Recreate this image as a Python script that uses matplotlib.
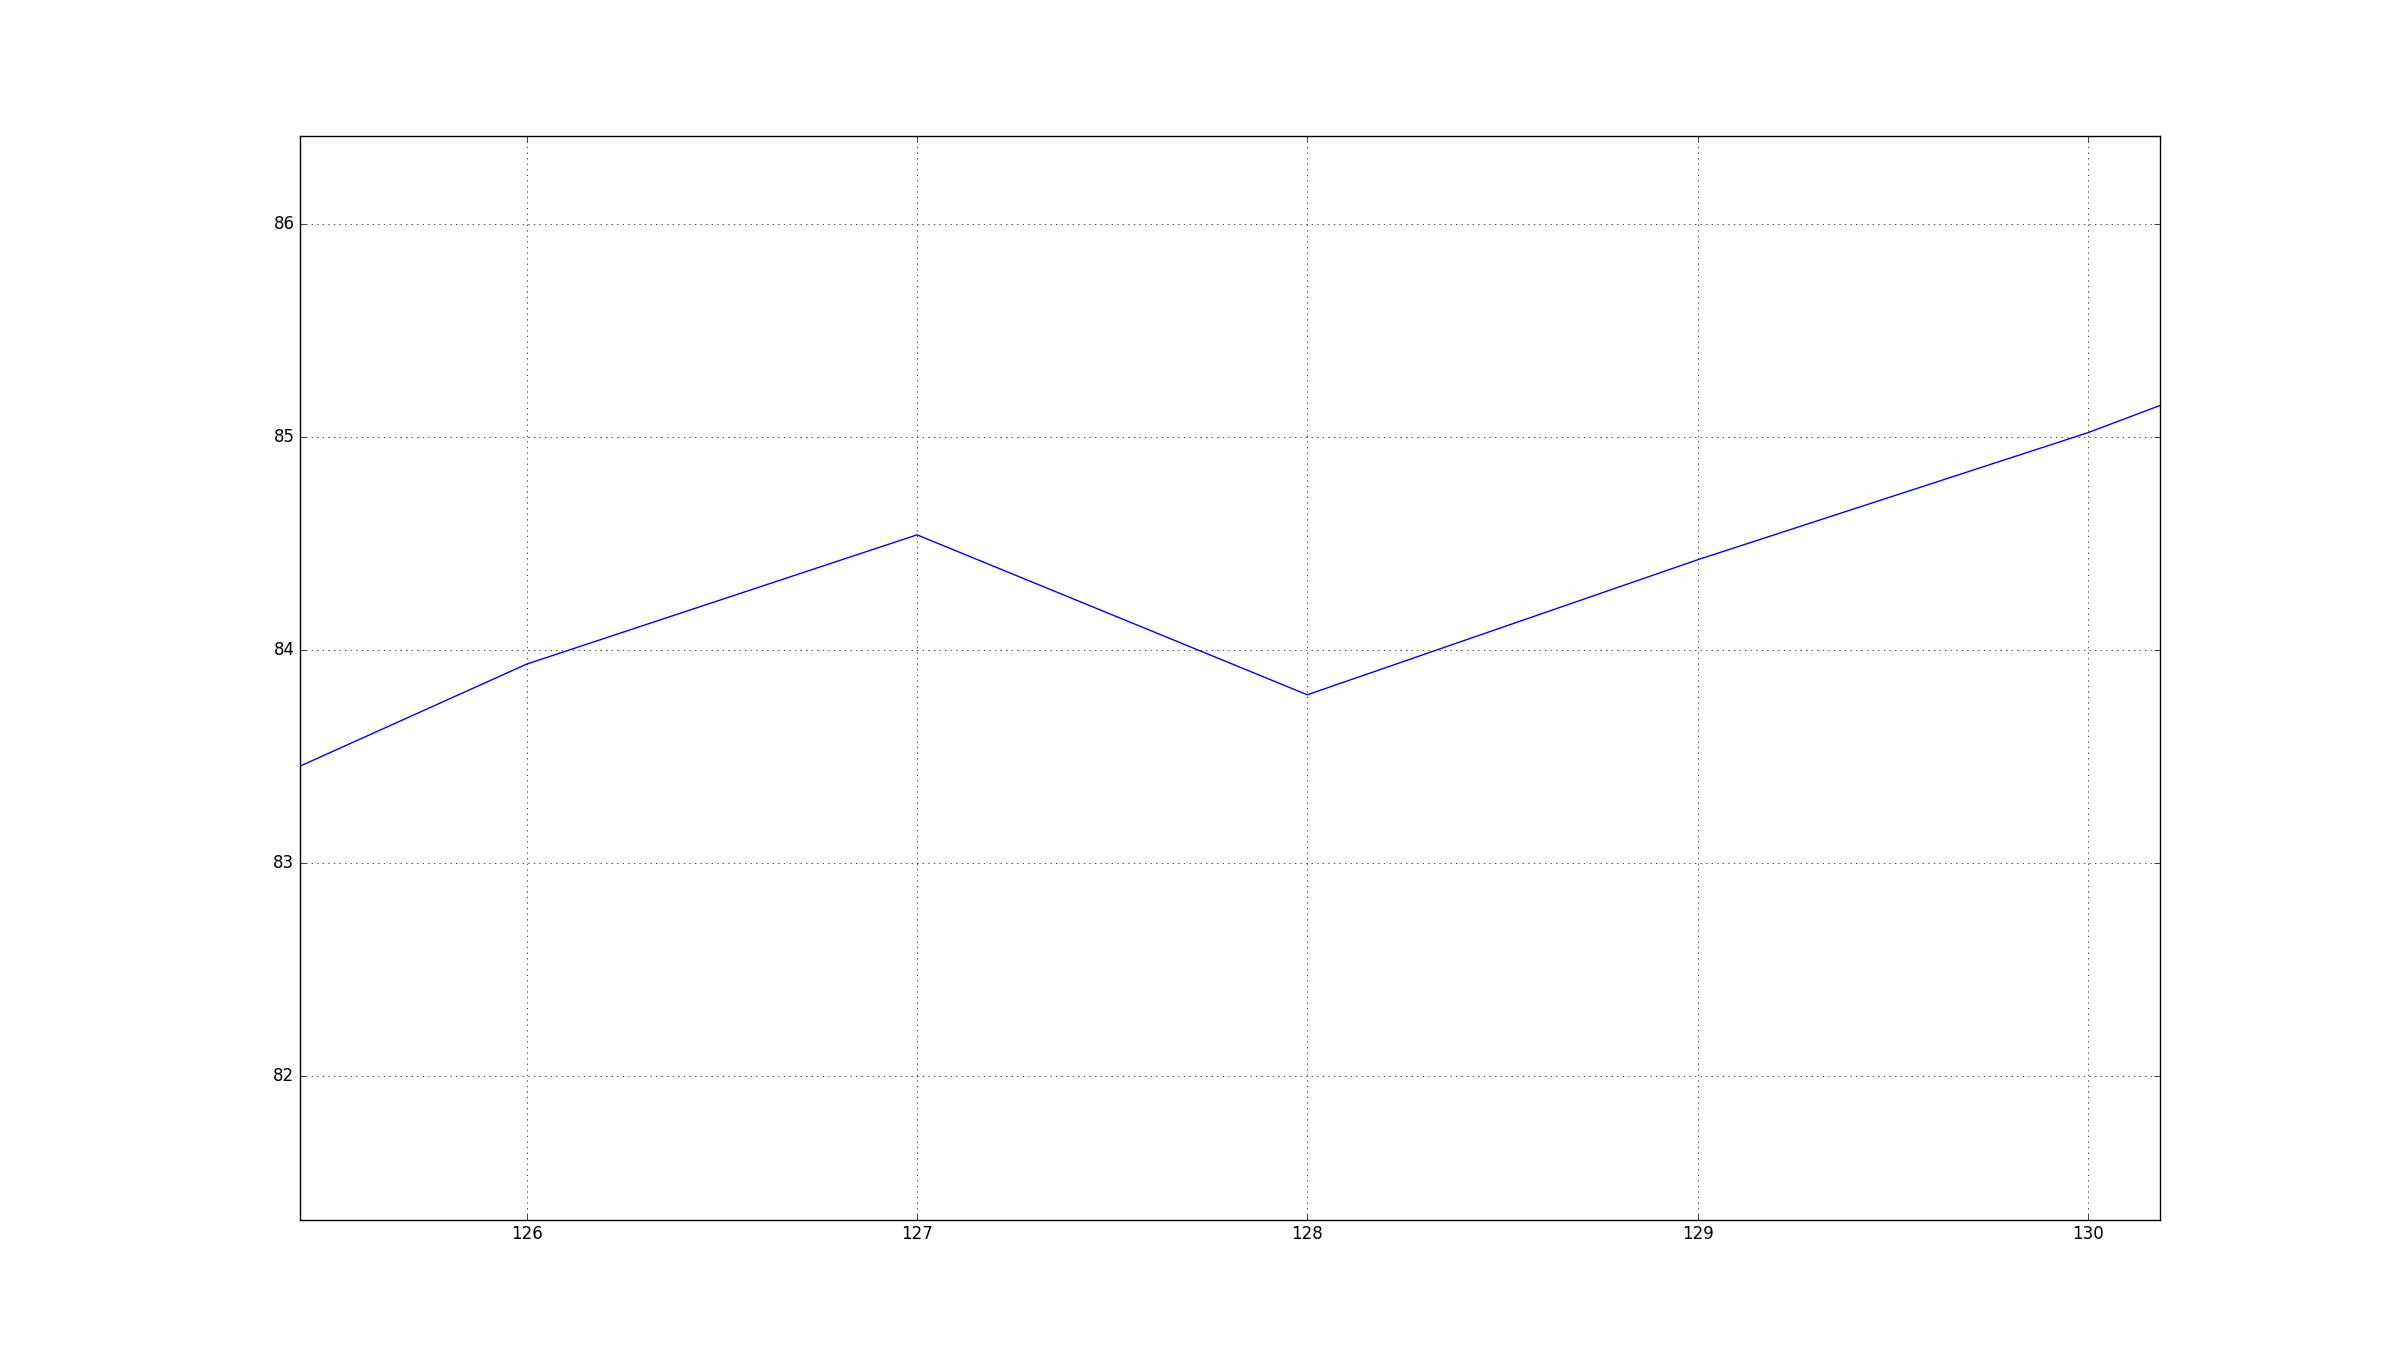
import matplotlib
matplotlib.use('Agg')
import matplotlib.pyplot as plt

# data
x = [125, 126, 127, 128, 129, 130, 131]
y = [83.11, 83.934, 84.54, 83.79, 84.423, 85.019, 85.71]

plt.style.use('classic')

fig, ax = plt.subplots(figsize=(24, 13.55), dpi=100)
fig.patch.set_facecolor('white')

ax.plot(x, y, color='b', linewidth=1.0)

ax.set_xlim(125.419, 130.185)
ax.set_ylim(81.329, 86.413)
ax.set_xticks([126, 127, 128, 129, 130])
ax.set_yticks([82, 83, 84, 85, 86])
ax.tick_params(labelsize=12)
ax.grid(True)

fig.savefig('out.png', dpi=100, facecolor='white')
